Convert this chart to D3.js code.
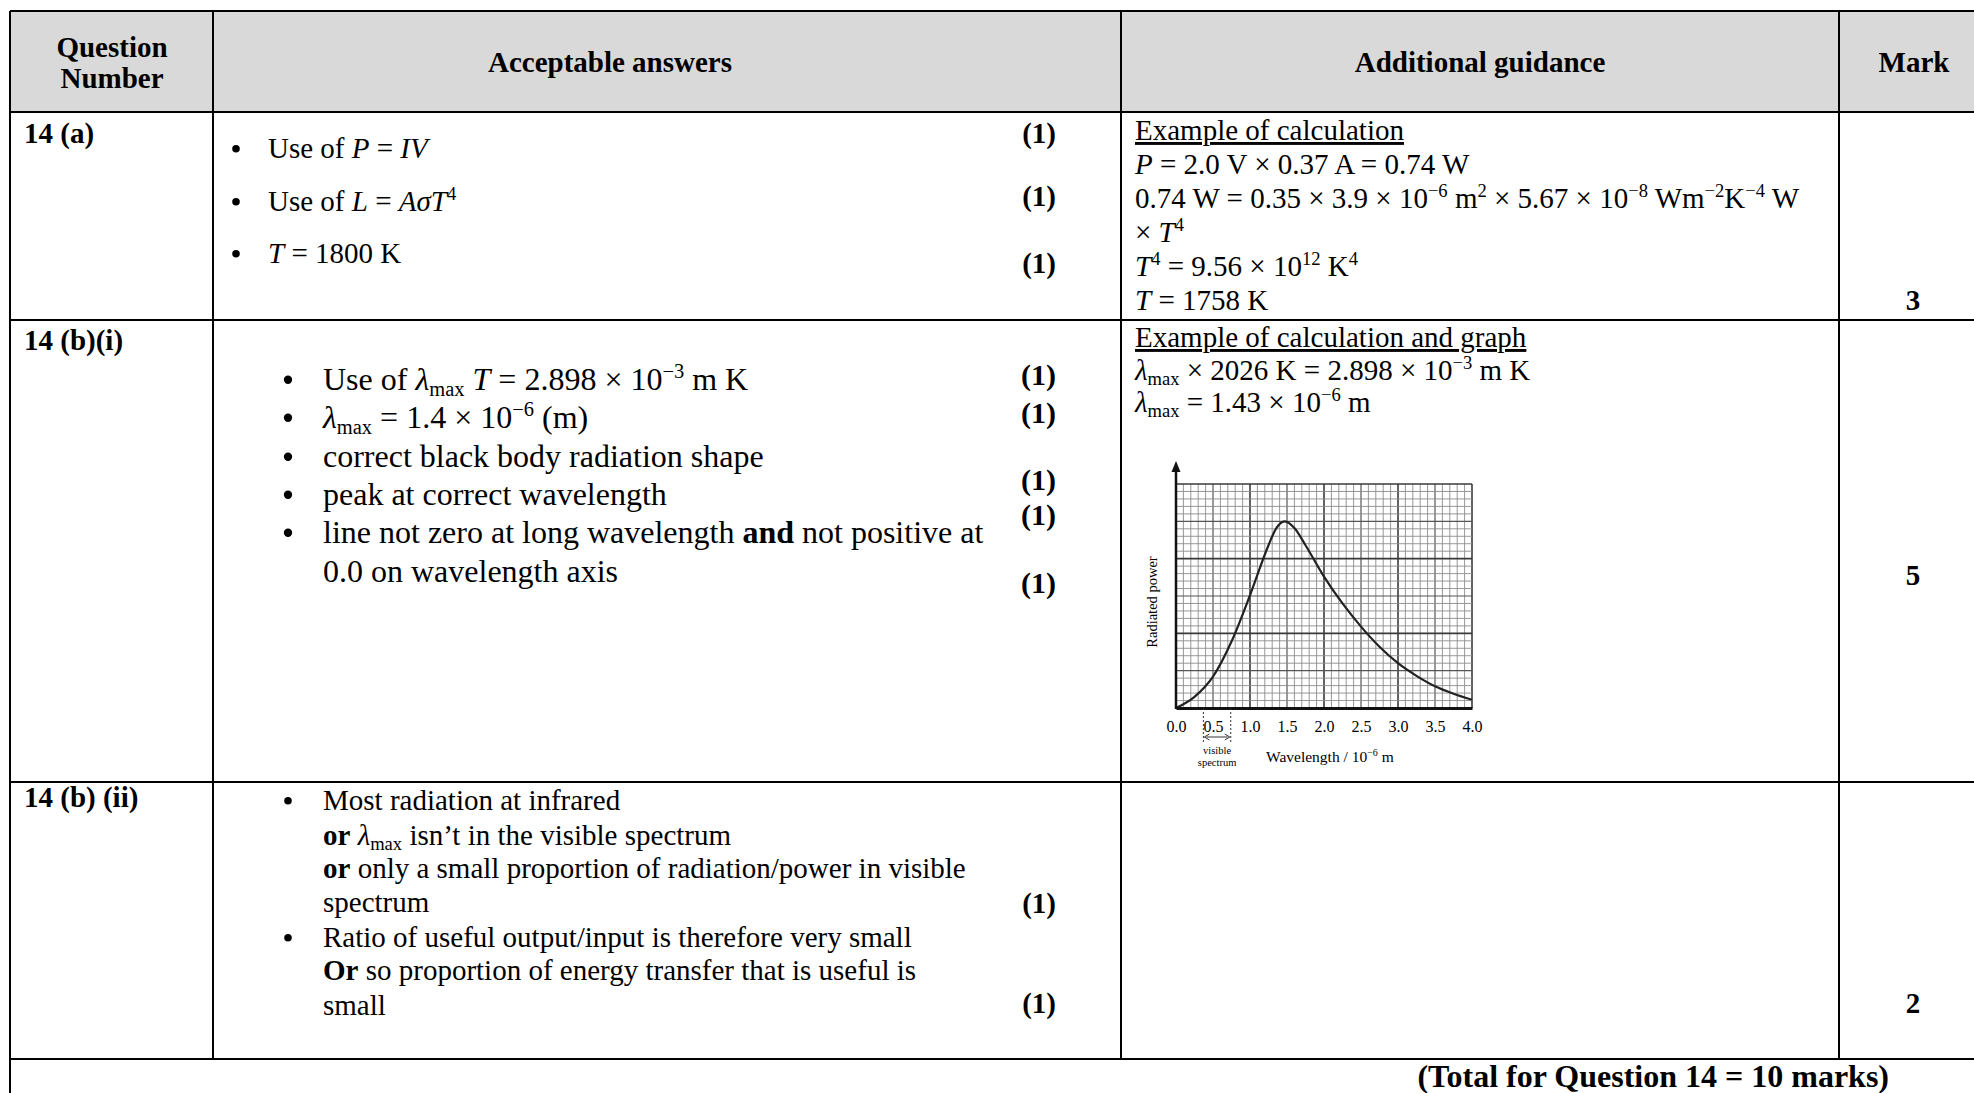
<!DOCTYPE html>
<html>
<head>
<meta charset="utf-8">
<script src="https://cdn.jsdelivr.net/npm/d3@7"></script>
<style>
body { margin: 0; background: #fff; overflow: hidden; }
svg text { font-family: "Liberation Serif", "Times New Roman", serif; fill: #000; white-space: pre; }
</style>
</head>
<body>
<div id="chart-area"></div>
<script>
// ---- table text ----
var headerCells = ["Question", "Number", "Acceptable answers", "Additional guidance", "Mark"];
var questionIds = ["14 (a)", "14 (b)(i)", "14 (b) (ii)"];
var marks = ["3", "5", "2"];
var totalText = "(Total for Question 14 = 10 marks)";

var answersA = ["• Use of {i|P} = {i|IV}", "• Use of {i|L} = {i|AσT}{sup|4}", "• {i|T} = 1800 K"];
var answersBi = ["• Use of {i|λ}{sub|max} {i|T} = 2.898 × 10{sup|−3} m K",
    "• {i|λ}{sub|max} = 1.4 × 10{sup|−6} (m)",
    "• correct black body radiation shape",
    "• peak at correct wavelength",
    "• line not zero at long wavelength {b|and} not positive at",
    "0.0 on wavelength axis"];
var answersBii = ["• Most radiation at infrared",
    "{b|or} {i|λ}{sub|max} isn’t in the visible spectrum",
    "{b|or} only a small proportion of radiation/power in visible",
    "spectrum",
    "• Ratio of useful output/input is therefore very small",
    "{b|Or} so proportion of energy transfer that is useful is",
    "small"];
var pointsA = ["(1)", "(1)", "(1)"];
var pointsBi = ["(1)", "(1)", "(1)", "(1)", "(1)"];
var pointsBii = ["(1)", "(1)"];

var guidanceA = ["{u|Example of calculation}",
    "{i|P} = 2.0 V × 0.37 A = 0.74 W",
    "0.74 W = 0.35 × 3.9 × 10{sup|−6} m{sup|2} × 5.67 × 10{sup|−8} Wm{sup|−2}K{sup|−4} W",
    "× {i|T}{sup|4}",
    "{i|T}{sup|4} = 9.56 × 10{sup|12} K{sup|4}",
    "{i|T} = 1758 K"];
var guidanceBi = ["{u|Example of calculation and graph}",
    "{i|λ}{sub|max} × 2026 K = 2.898 × 10{sup|−3} m K",
    "{i|λ}{sub|max} = 1.43 × 10{sup|−6} m"];

// ---- graph data (wavelength / 10^-6 m, radiated power in small squares) ----
var wavelength = [0, 0.25, 0.5, 0.75, 1.0, 1.25, 1.35, 1.47, 1.6, 1.75, 2.0, 2.25, 2.5, 2.75, 3.0, 3.25, 3.5, 3.75, 4.0];
var power      = [0, 1.5, 4.2, 8.9, 15.1, 21.8, 24.0, 25.0, 24.1, 21.8, 17.6, 14.0, 10.9, 8.2, 6.0, 4.3, 2.9, 1.9, 1.1];
var tickValues = [0, 0.5, 1.0, 1.5, 2.0, 2.5, 3.0, 3.5, 4.0];
var tickLabels = ["0.0", "0.5", "1.0", "1.5", "2.0", "2.5", "3.0", "3.5", "4.0"];
var visibleBand = [0.37, 0.74];

var W = 1974, H = 1093;
var colX = [10, 213, 1121, 1839, 1995];
var rowY = [11, 112, 320, 782, 1059];

var svg = d3.select("#chart-area")
    .append("svg")
        .attr("width", W)
        .attr("height", H);

// split "{kind|text}" markup into pieces
function parse(str) {
    return str.split(/(\{[a-z]+\|[^}]*\})/).filter(function(s) { return s.length; })
        .map(function(s) {
            var m = s.match(/^\{([a-z]+)\|([^}]*)\}$/);
            return m ? { kind: m[1], text: m[2] } : { kind: "", text: s };
        });
}

function rich(str, x, y, size, anchor, bold) {
    var t = svg.append("text")
        .attr("x", x).attr("y", y)
        .style("font-size", size + "px")
        .attr("text-anchor", anchor || "start");
    if (bold) t.style("font-weight", "bold");
    var shift = 0;
    parse(str).forEach(function(seg) {
        var target = seg.kind == "sup" ? -0.38 * size : (seg.kind == "sub" ? 0.18 * size : 0);
        var ts = t.append("tspan").text(seg.text);
        if (target - shift != 0) ts.attr("dy", target - shift);
        shift = target;
        if (seg.kind == "sup" || seg.kind == "sub") ts.style("font-size", (size * 0.64) + "px");
        if (seg.kind == "i") ts.style("font-style", "italic");
        if (seg.kind == "b") ts.style("font-weight", "bold");
        if (seg.kind == "u") ts.style("text-decoration", "underline");
    });
    return t;
}

// bullet dots drawn as circles
function bulletLines(lines, bx, tx, ys, size) {
    lines.forEach(function(line, i) {
        if (line.indexOf("• ") == 0) {
            svg.append("circle")
                .attr("cx", bx).attr("cy", ys[i] - size * 0.32)
                .attr("r", size * 0.13)
                .attr("fill", "#000");
            line = line.slice(2);
        }
        rich(line, tx, ys[i], size);
    });
}

// header background
svg.append("rect")
    .attr("x", colX[0]).attr("y", rowY[0])
    .attr("width", colX[4] - colX[0]).attr("height", rowY[1] - rowY[0])
    .attr("fill", "#d9d9d9");

// grid lines of the table
rowY.forEach(function(yy) {
    svg.append("line").attr("x1", colX[0]).attr("x2", colX[4]).attr("y1", yy).attr("y2", yy)
        .attr("stroke", "#000").attr("stroke-width", 2);
});
colX.forEach(function(xx, i) {
    svg.append("line").attr("x1", xx).attr("x2", xx).attr("y1", rowY[0])
        .attr("y2", i == 0 ? H : rowY[4])
        .attr("stroke", "#000").attr("stroke-width", 2);
});

// header text
rich(headerCells[0], 112, 57, 29, "middle", true);
rich(headerCells[1], 112, 88, 29, "middle", true);
rich(headerCells[2], 610, 72, 29, "middle", true);
rich(headerCells[3], 1480, 72, 29, "middle", true);
rich(headerCells[4], 1914, 72, 29, "middle", true);

// question numbers and marks
var idY = [143, 350, 807];
var markY = [310, 585, 1013];
questionIds.forEach(function(q, i) { rich(q, 24, idY[i], 29, "start", true); });
marks.forEach(function(m, i) { rich(m, 1913, markY[i], 29, "middle", true); });

// answers
bulletLines(answersA, 236, 268, [158, 211, 263], 29);
bulletLines(answersBi, 288, 323, [390, 428, 467, 505, 543, 582], 32);
bulletLines(answersBii, 288, 323, [810, 845, 878, 912, 947, 980, 1015], 29);

// (1) marks
pointsA.forEach(function(p, i) { rich(p, 1056, [143, 206, 273][i], 29, "end", true); });
pointsBi.forEach(function(p, i) { rich(p, 1056, [385, 423, 490, 525, 593][i], 30, "end", true); });
pointsBii.forEach(function(p, i) { rich(p, 1056, [913, 1013][i], 29, "end", true); });

// guidance
guidanceA.forEach(function(g, i) { rich(g, 1135, 140 + i * 34, 29); });
guidanceBi.forEach(function(g, i) { rich(g, 1135, [347, 380, 412][i], 29); });

// total
rich(totalText, 1889, 1087, 32, "end", true);

// ---- black body graph ----
var xScale = d3.scaleLinear().domain([0, 4]).range([1176, 1472]);
var yScale = d3.scaleLinear().domain([0, 30]).range([708, 484]);
var graph = svg.append("g");

function gridColor(k) { return k % 10 == 0 ? "#3a3a3a" : (k % 5 == 0 ? "#555" : "#8c8c8c"); }
function gridWidth(k) { return k % 10 == 0 ? 1.6 : (k % 5 == 0 ? 1.2 : 0.9); }

d3.range(0, 41).forEach(function(i) {
    graph.append("line")
        .attr("x1", xScale(i / 10)).attr("x2", xScale(i / 10))
        .attr("y1", yScale(0)).attr("y2", yScale(30))
        .attr("stroke", gridColor(i))
        .attr("stroke-width", gridWidth(i));
});
d3.range(0, 31).forEach(function(j) {
    graph.append("line")
        .attr("x1", xScale(0)).attr("x2", xScale(4))
        .attr("y1", yScale(j)).attr("y2", yScale(j))
        .attr("stroke", gridColor(j))
        .attr("stroke-width", gridWidth(j));
});

var pts = wavelength.map(function(w, i) { return [w, power[i]]; });
var curve = d3.line()
    .curve(d3.curveMonotoneX)
    .x(function(d) { return xScale(d[0]); })
    .y(function(d) { return yScale(d[1]); });
graph.append("path")
    .attr("d", curve(pts))
    .attr("fill", "none")
    .attr("stroke", "#222")
    .attr("stroke-width", 2.2);

// x axis
var xAxis = graph.append("g")
    .attr("transform", "translate(0," + yScale(0) + ")")
    .call(d3.axisBottom(xScale).tickValues(tickValues)
        .tickFormat(function(d, i) { return tickLabels[i]; })
        .tickSize(0).tickPadding(13));
xAxis.select(".domain").attr("stroke", "#111").attr("stroke-width", 3);
xAxis.selectAll("text")
    .attr("font-family", null)
    .style("font-size", "16px")
    .attr("fill", "#222");

// y axis with arrow
graph.append("line")
    .attr("x1", xScale(0)).attr("x2", xScale(0))
    .attr("y1", yScale(0) + 1).attr("y2", 470)
    .attr("stroke", "#111").attr("stroke-width", 2.5);
graph.append("path")
    .attr("d", "M" + xScale(0) + ",461 l-4.5,11 h9 z")
    .attr("fill", "#111");

// visible spectrum marker
visibleBand.forEach(function(v) {
    graph.append("line")
        .attr("x1", xScale(v)).attr("x2", xScale(v))
        .attr("y1", yScale(0)).attr("y2", 743)
        .attr("stroke", "#333").attr("stroke-width", 1)
        .attr("stroke-dasharray", "2,2");
});
var ax0 = xScale(visibleBand[0]) + 1, ax1 = xScale(visibleBand[1]) - 1;
graph.append("line").attr("x1", ax0 + 2).attr("x2", ax1 - 2).attr("y1", 737).attr("y2", 737)
    .attr("stroke", "#333").attr("stroke-width", 1);
graph.append("path").attr("d", "M" + ax0 + ",737 l5,-3 M" + ax0 + ",737 l5,3 M" + ax1 + ",737 l-5,-3 M" + ax1 + ",737 l-5,3")
    .attr("stroke", "#333").attr("fill", "none").attr("stroke-width", 1);
graph.append("text").attr("x", (ax0 + ax1) / 2).attr("y", 754)
    .attr("text-anchor", "middle").style("font-size", "10.5px").attr("fill", "#333").text("visible");
graph.append("text").attr("x", (ax0 + ax1) / 2).attr("y", 766)
    .attr("text-anchor", "middle").style("font-size", "10.5px").attr("fill", "#333").text("spectrum");

// axis titles
var xt = graph.append("text").attr("x", 1266).attr("y", 762).style("font-size", "15.5px").attr("fill", "#222");
xt.append("tspan").text("Wavelength / 10");
xt.append("tspan").attr("dy", -6).style("font-size", "10px").text("−6");
xt.append("tspan").attr("dy", 6).text(" m");
graph.append("text")
    .attr("transform", "translate(1157,602) rotate(-90)")
    .attr("text-anchor", "middle")
    .style("font-size", "14.5px")
    .attr("fill", "#222")
    .text("Radiated power");
</script>
</body>
</html>
